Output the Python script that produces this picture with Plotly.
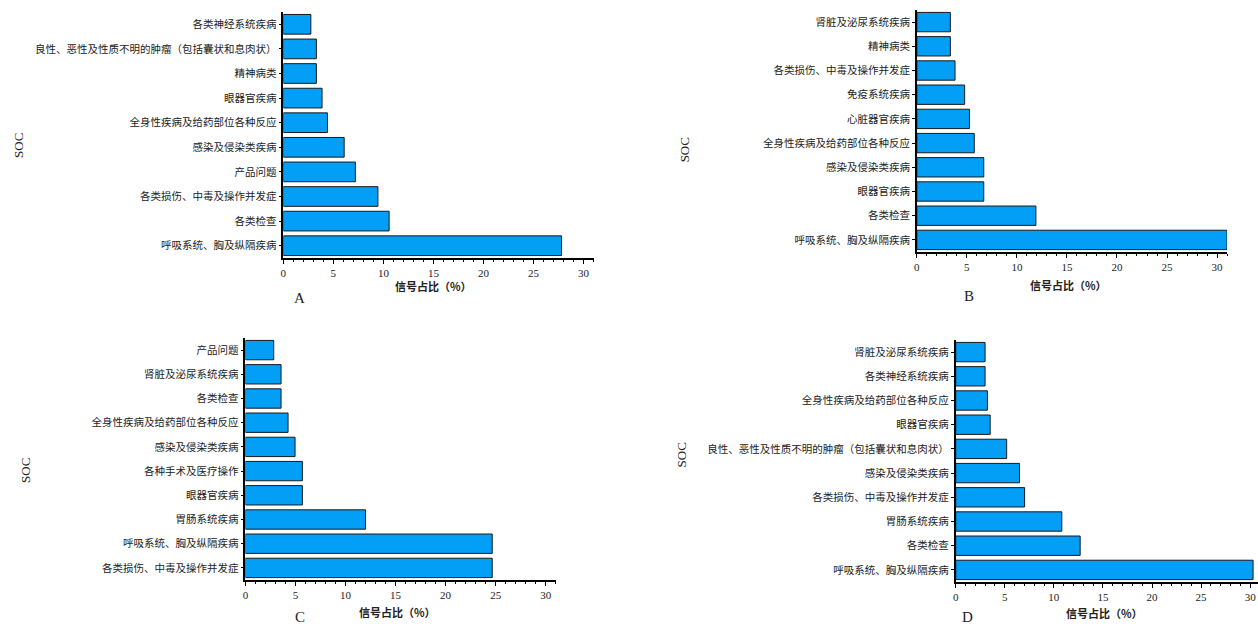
import plotly.graph_objects as go

# ---- data (listed top to bottom as shown) ----
cats_a = ["各类神经系统疾病", "良性、恶性及性质不明的肿瘤（包括囊状和息肉状）", "精神病类", "眼器官疾病",
          "全身性疾病及给药部位各种反应", "感染及侵染类疾病", "产品问题", "各类损伤、中毒及操作并发症",
          "各类检查", "呼吸系统、胸及纵隔疾病"]
vals_a = [2.75, 3.3, 3.3, 3.87, 4.41, 6.08, 7.2, 9.45, 10.57, 27.8]

cats_b = ["肾脏及泌尿系统疾病", "精神病类", "各类损伤、中毒及操作并发症", "免疫系统疾病", "心脏器官疾病",
          "全身性疾病及给药部位各种反应", "感染及侵染类疾病", "眼器官疾病", "各类检查", "呼吸系统、胸及纵隔疾病"]
vals_b = [3.35, 3.35, 3.82, 4.78, 5.26, 5.74, 6.69, 6.69, 11.9, 31.0]

cats_c = ["产品问题", "肾脏及泌尿系统疾病", "各类检查", "全身性疾病及给药部位各种反应", "感染及侵染类疾病",
          "各种手术及医疗操作", "眼器官疾病", "胃肠系统疾病", "呼吸系统、胸及纵隔疾病", "各类损伤、中毒及操作并发症"]
vals_c = [2.83, 3.56, 3.56, 4.26, 4.96, 5.69, 5.69, 12.0, 24.66, 24.66]

cats_d = ["肾脏及泌尿系统疾病", "各类神经系统疾病", "全身性疾病及给药部位各种反应", "眼器官疾病",
          "良性、恶性及性质不明的肿瘤（包括囊状和息肉状）", "感染及侵染类疾病", "各类损伤、中毒及操作并发症",
          "胃肠系统疾病", "各类检查", "呼吸系统、胸及纵隔疾病"]
vals_d = [2.99, 2.99, 3.23, 3.51, 5.19, 6.5, 7.02, 10.81, 12.68, 30.3]

x_ticks = [0, 5, 10, 15, 20, 25, 30]
x_title = "信号占比（%）"
y_title = "SOC"
panel_letters = ["A", "B", "C", "D"]

W, H = 1258, 624
BAR_COLOR = "#039EF6"
SERIF = "Liberation Serif, Noto Sans CJK SC, serif"
CJK = "Noto Sans CJK SC, sans-serif"

# pixel layout of each panel: (x0, x1, ytop, ybottom, xmax)
panels = [
    (281, 592, 12, 258, 31.0),
    (916, 1227, 10, 252, 31.0),
    (243, 554, 338, 580, 31.0),
    (955, 1258, 340, 582, 30.8),
]
data = [(cats_a, vals_a), (cats_b, vals_b), (cats_c, vals_c), (cats_d, vals_d)]

fig = go.Figure()
annotations = []
for i, ((cats, vals), (x0, x1, yt, yb, xmax)) in enumerate(zip(data, panels)):
    n = "" if i == 0 else str(i + 1)
    fig.add_trace(go.Bar(
        x=vals, y=cats, orientation="h",
        marker=dict(color=BAR_COLOR, line=dict(color="#1a1a1a", width=1)),
        xaxis="x" + n, yaxis="y" + n, width=0.8, showlegend=False,
        hoverinfo="x+y",
    ))
    fig.layout["xaxis" + n] = dict(
        domain=[x0 / W, min(x1 / W, 1.0)], anchor="y" + n, range=[0, xmax],
        tickvals=x_ticks, ticks="outside", ticklen=4, tickwidth=1, tickcolor="black",
        minor=dict(dtick=1, ticks="outside", ticklen=2, tickcolor="black"),
        showline=True, linecolor="black", linewidth=1.5, showgrid=False, zeroline=False,
        tickfont=dict(family=SERIF, size=11, color="#222"),
        fixedrange=True,
    )
    fig.layout["yaxis" + n] = dict(
        domain=[1 - yb / H, 1 - yt / H], anchor="x" + n,
        categoryorder="array", categoryarray=cats, autorange="reversed",
        ticks="outside", ticklen=3, tickwidth=1, tickcolor="black",
        showline=True, linecolor="black", linewidth=1.5, showgrid=False,
        tickfont=dict(family=SERIF, size=10.5, color="#222"),
        fixedrange=True,
    )

# axis titles and panel letters (pixel positions)
soc_pos = [(15, 145), (683, 150), (22, 470), (680, 455)]
xlab_pos = [(432, 286), (1068, 285), (395, 612), (1104, 613)]
letter_pos = [(297, 298), (968, 296), (298, 617), (967, 617)]
for (sx, sy), (lx, ly), (px, py), letter in zip(soc_pos, xlab_pos, letter_pos, panel_letters):
    annotations.append(dict(x=sx / W, y=1 - sy / H, xref="paper", yref="paper", text=y_title,
                            textangle=-90, showarrow=False, xanchor="center", yanchor="middle",
                            font=dict(family=SERIF, size=13, color="#222")))
    annotations.append(dict(x=lx / W, y=1 - ly / H, xref="paper", yref="paper", text="<b>" + x_title + "</b>",
                            showarrow=False, xanchor="center", yanchor="middle",
                            font=dict(family=CJK, size=11, color="#222")))
    annotations.append(dict(x=px / W, y=1 - py / H, xref="paper", yref="paper", text=letter,
                            showarrow=False, xanchor="center", yanchor="middle",
                            font=dict(family=SERIF, size=15, color="#222")))

fig.update_layout(
    width=W, height=H, margin=dict(l=0, r=0, t=0, b=0),
    paper_bgcolor="white", plot_bgcolor="white",
    bargap=0.2, annotations=annotations, showlegend=False,
)
fig.write_html("out.html", config={"displayModeBar": False},
               post_script="document.body.style.margin='0';document.body.style.overflow='hidden';")
